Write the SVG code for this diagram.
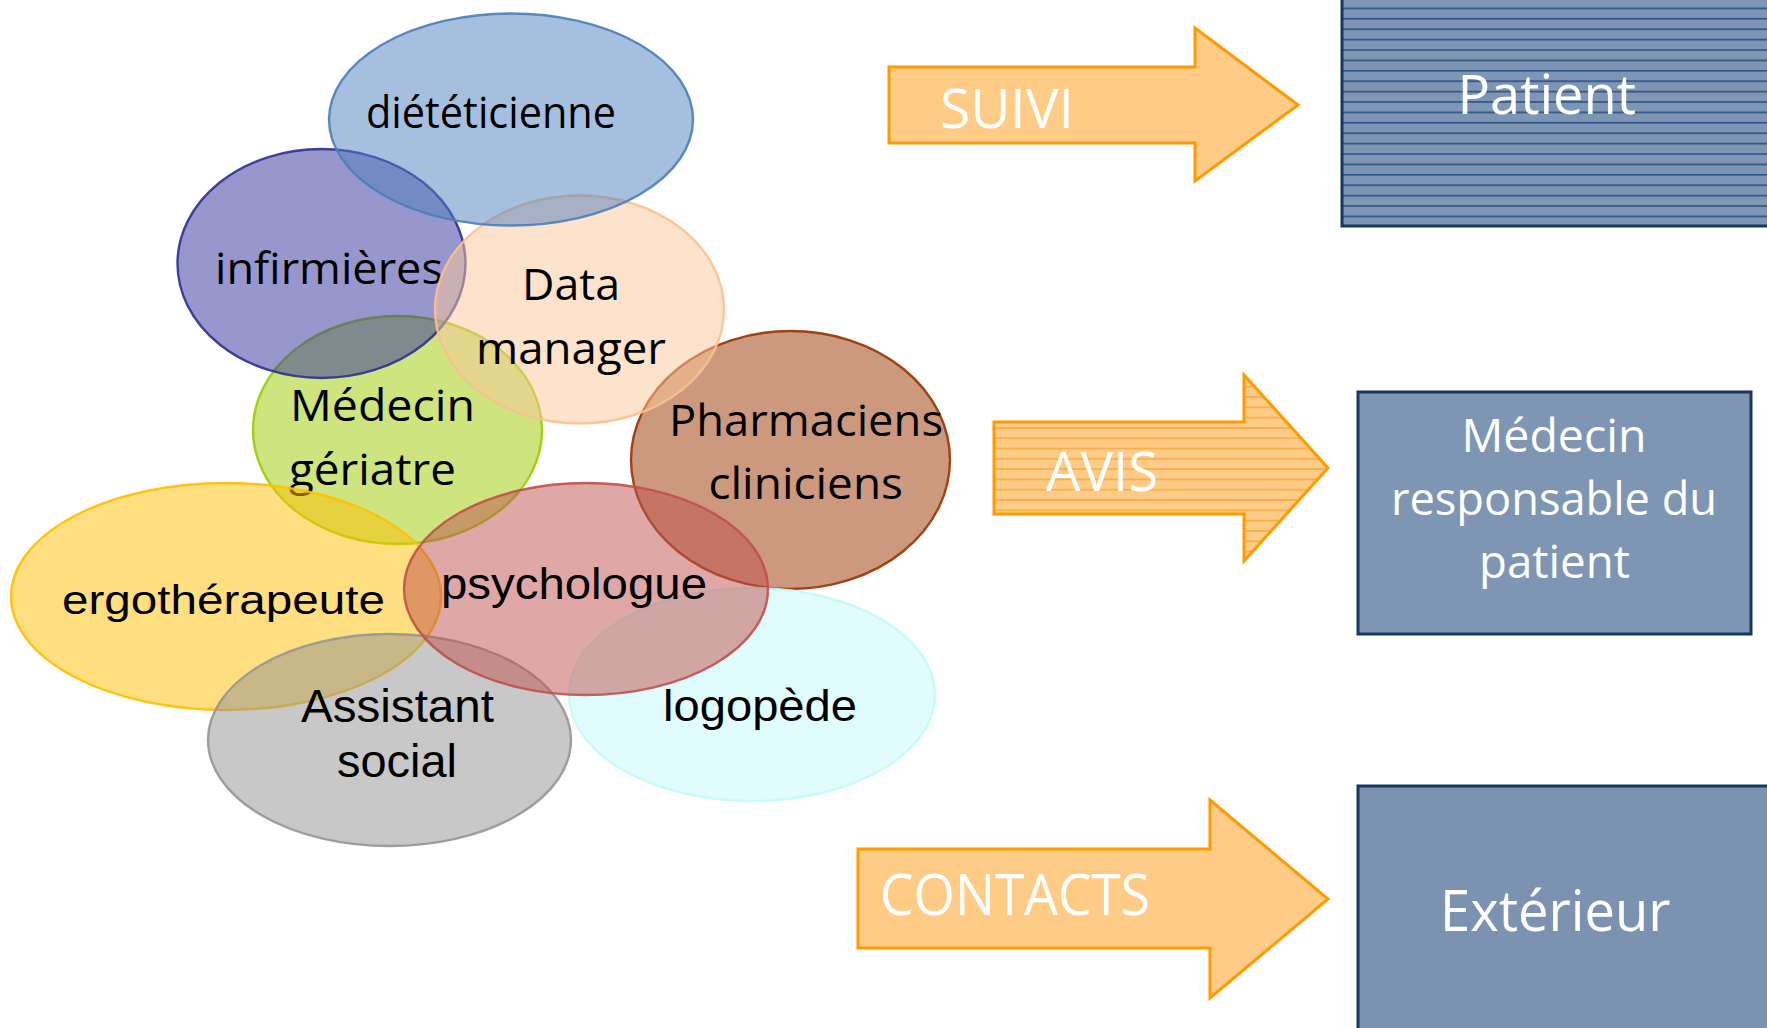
<svg xmlns="http://www.w3.org/2000/svg" width="1767" height="1028" viewBox="0 0 1767 1028">
<defs>
<pattern id="pLines" patternUnits="userSpaceOnUse" x="0" y="0" width="40" height="10.4">
<rect x="0" y="0" width="40" height="10.4" fill="#7e96b4"/>
<line x1="0" y1="8.3" x2="40" y2="8.3" stroke="#2d5486" stroke-width="1.6"/>
</pattern>
<pattern id="oLines" patternUnits="userSpaceOnUse" x="0" y="0" width="40" height="10.3">
<rect x="0" y="0" width="40" height="10.3" fill="#ffcc88"/>
<line x1="0" y1="5.7" x2="40" y2="5.7" stroke="#f4a83c" stroke-width="1.4"/>
</pattern>
<style>
.ell{stroke-width:2.4;fill-opacity:0.5;stroke-opacity:0.9}
.cal{font-family:"Open Sans","Noto Sans",sans-serif;font-size:44px;fill:#000}
.ari{font-family:"Liberation Sans",Arial,sans-serif;fill:#000}
.wht{font-family:"Open Sans","Noto Sans",sans-serif;fill:#fff}
.arrow{stroke:#ff9a00;stroke-width:3;stroke-linejoin:miter}
.box{stroke:#17375e;stroke-width:3}
</style>
</defs>
<rect x="0" y="0" width="1767" height="1028" fill="#fff"/>

<g id="medecin-geriatre">
<ellipse class="ell" cx="397.5" cy="430" rx="144.5" ry="114" fill="#9bc900" stroke="#99cc00"/>
<text class="cal" x="290" y="421" textLength="185" lengthAdjust="spacingAndGlyphs">Médecin</text>
<text class="cal" x="289" y="485" textLength="167" lengthAdjust="spacingAndGlyphs">gériatre</text>
</g>
<g id="infirmieres">
<ellipse class="ell" cx="321.5" cy="263.5" rx="144" ry="114.5" fill="#31309b" stroke="#2e3192"/>
<text class="cal" x="215" y="284" textLength="228" lengthAdjust="spacingAndGlyphs">infirmières</text>
</g>
<g id="pharmaciens">
<ellipse class="ell" cx="790.5" cy="460" rx="159.5" ry="129" fill="#993300" stroke="#993300"/>
<text class="cal" x="669" y="436" textLength="274" lengthAdjust="spacingAndGlyphs">Pharmaciens</text>
<text class="cal" x="708.5" y="499" textLength="194.5" lengthAdjust="spacingAndGlyphs">cliniciens</text>
</g>
<g id="data-manager">
<ellipse class="ell" cx="579.5" cy="309.5" rx="144.5" ry="114" fill="#fbc799" stroke="#fbc08f"/>
<text class="cal" x="522" y="300" textLength="98" lengthAdjust="spacingAndGlyphs">Data</text>
<text class="cal" x="476" y="364" textLength="190" lengthAdjust="spacingAndGlyphs">manager</text>
</g>
<g id="dieteticienne">
<ellipse class="ell" cx="511" cy="119.5" rx="182" ry="106" fill="#4f7fbd" stroke="#4a7ebb"/>
<text class="cal" x="366" y="128" textLength="250" lengthAdjust="spacingAndGlyphs">diététicienne</text>
</g>
<g id="ergotherapeute">
<ellipse class="ell" cx="226" cy="596.5" rx="215" ry="113.5" fill="#ffc000" stroke="#ffc000"/>
<text class="ari" x="62" y="614" font-size="40" textLength="323" lengthAdjust="spacingAndGlyphs">ergothérapeute</text>
</g>
<g id="assistant-social">
<ellipse class="ell" cx="389.5" cy="740" rx="181.5" ry="106" fill="#919191" stroke="#969696"/>
<text class="ari" x="301" y="722" font-size="45.5" textLength="193" lengthAdjust="spacingAndGlyphs">Assistant</text>
<text class="ari" x="337" y="777" font-size="45.5" textLength="120" lengthAdjust="spacingAndGlyphs">social</text>
</g>
<g id="logopede">
<ellipse class="ell" cx="752" cy="694.5" rx="183" ry="106.5" fill="#c2fafa" stroke="#c6fafa"/>
<text class="ari" x="663" y="721" font-size="45" textLength="194" lengthAdjust="spacingAndGlyphs">logopède</text>
</g>
<g id="psychologue">
<ellipse class="ell" cx="586" cy="589" rx="182" ry="106" fill="#c0504d" stroke="#c0504d"/>
<text class="ari" x="441" y="599" font-size="45" textLength="266" lengthAdjust="spacingAndGlyphs">psychologue</text>
</g>

<g id="connectors">
<g id="arrow-suivi">
<polygon class="arrow" fill="#ffcc88" points="889,67 1195,67 1195,28 1298,105 1195,181 1195,143 889,143"/>
<text class="wht" x="940" y="128" font-size="55" textLength="134" lengthAdjust="spacingAndGlyphs">SUIVI</text>
</g>
<g id="arrow-avis">
<polygon class="arrow" fill="url(#oLines)" points="994,422 1244,422 1244,375 1328,468 1244,561 1244,514 994,514"/>
<text class="wht" x="1046" y="491" font-size="55" textLength="112" lengthAdjust="spacingAndGlyphs">AVIS</text>
</g>
<g id="arrow-contacts">
<polygon class="arrow" fill="#ffcc88" points="858,849 1210,849 1210,800 1328,899 1210,998 1210,948 858,948"/>
<text class="wht" x="880" y="915" font-size="56" textLength="270" lengthAdjust="spacingAndGlyphs">CONTACTS</text>
</g>
</g>

<g id="patient">
<rect class="box" x="1342" y="-2" width="427" height="228" fill="url(#pLines)"/>
<text class="wht" x="1457.5" y="114" font-size="55" textLength="178.5" lengthAdjust="spacingAndGlyphs">Patient</text>
</g>
<g id="medecin-responsable">
<rect class="box" x="1358" y="392" width="393" height="242" fill="#7e96b4"/>
<text class="wht" x="1461.5" y="452" font-size="45.5" textLength="185" lengthAdjust="spacingAndGlyphs">Médecin</text>
<text class="wht" x="1391" y="515" font-size="45.5" textLength="326" lengthAdjust="spacingAndGlyphs">responsable du</text>
<text class="wht" x="1479" y="578" font-size="45.5" textLength="151" lengthAdjust="spacingAndGlyphs">patient</text>
</g>
<g id="exterieur">
<rect class="box" x="1358" y="786" width="411" height="246" fill="#7b93b1"/>
<text class="wht" x="1440" y="931" font-size="56" textLength="230.6" lengthAdjust="spacingAndGlyphs">Extérieur</text>
</g>
</svg>
